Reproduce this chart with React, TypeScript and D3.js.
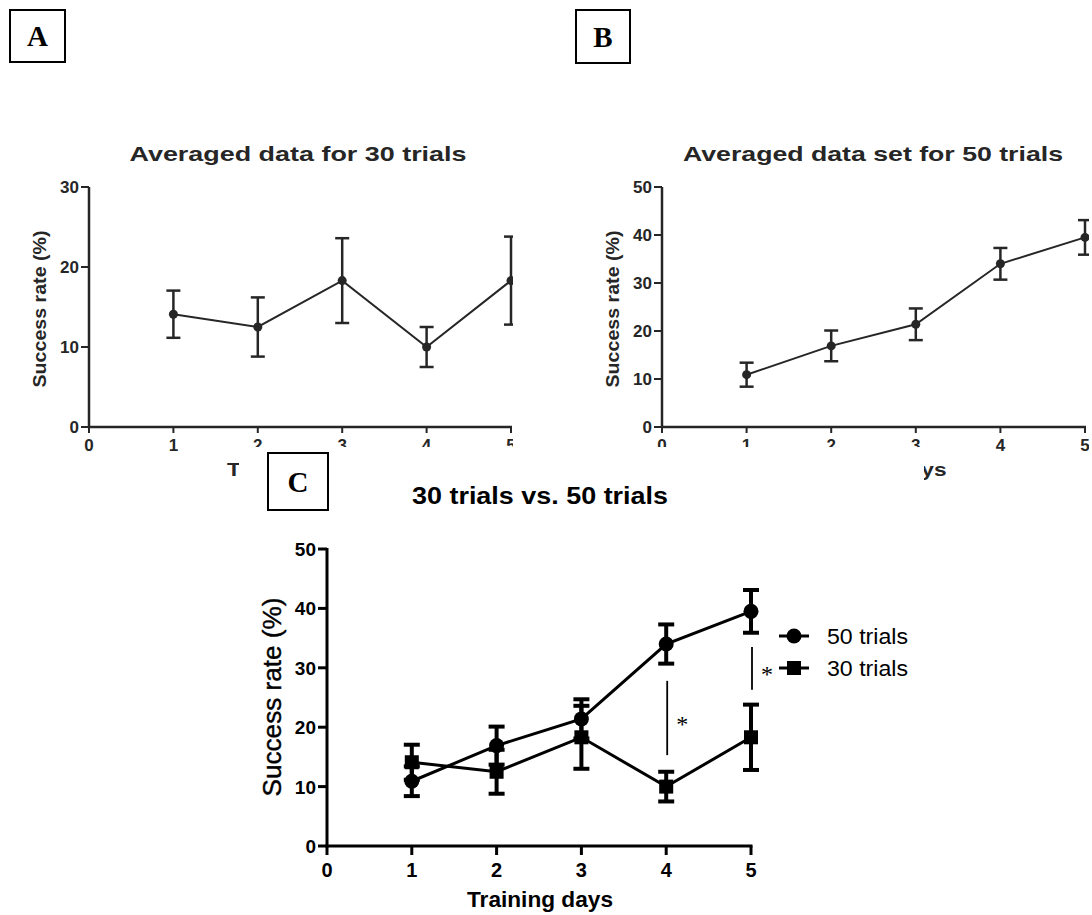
import React from 'react';
import * as d3 from 'd3';

const days = [1, 2, 3, 4, 5];
const xTicks = [0, 1, 2, 3, 4, 5];
const trials30Mean = [14.1, 12.5, 18.3, 10.0, 18.3];
const trials30Err = [2.95, 3.7, 5.3, 2.5, 5.5];
const trials50Mean = [10.9, 16.9, 21.4, 34.0, 39.5];
const trials50Err = [2.5, 3.2, 3.3, 3.3, 3.6];
const yTicks30 = [0, 10, 20, 30];
const yTicks50 = [0, 10, 20, 30, 40, 50];
const sigDays = [4, 5];
const sigFrom = [15.3, 26.3];
const sigTo = [27.8, 33.5];
const legendLabels = ['50 trials', '30 trials'];
const titleA = 'Averaged data for 30 trials';
const titleB = 'Averaged data set for 50 trials';
const titleC = '30 trials vs. 50 trials';
const xLabel = 'Training days';
const yLabel = 'Success rate (%)';

const SANS = '"Liberation Sans", Arial, sans-serif';
const SERIF = '"Liberation Serif", "DejaVu Serif", serif';

type SmallProps = {
  x0: number; x1: number; y0: number; y1: number;
  yMax: number; yTicks: number[];
  mean: number[]; err: number[];
  title: string; titleLen: number; titleX: number;
  yLabelX: number; clipId: string; clipX0: number; clipX1: number;
  labelClipX0: number; labelClipX1: number;
};

function SmallPanel(p: SmallProps) {
  const col = '#262626';
  const x = d3.scaleLinear().domain([0, 5]).range([p.x0, p.x1]);
  const y = d3.scaleLinear().domain([0, p.yMax]).range([p.y0, p.y1]);
  const line = d3.line<number>().x((_, i) => x(days[i])).y((d) => y(d));
  const cap = 7;
  return (
    <g>
      <defs>
        <clipPath id={p.clipId}>
          <rect x={p.clipX0} y={100} width={p.clipX1 - p.clipX0} height={400} />
        </clipPath>
        <clipPath id={p.clipId + 'L'}>
          <rect x={p.labelClipX0} y={450} width={p.labelClipX1 - p.labelClipX0} height={40} />
        </clipPath>
      </defs>
      <text x={p.titleX} y={161} textAnchor="middle" fontFamily={SANS} fontWeight="bold" fontSize={21}
        fill={col} textLength={p.titleLen} lengthAdjust="spacingAndGlyphs">{p.title}</text>
      <g clipPath={`url(#${p.clipId})`}>
        <line x1={x(0)} x2={x(0)} y1={y(p.yMax)} y2={y(0)} stroke={col} strokeWidth={2.5} />
        <line x1={x(0) - 1} x2={x(5) + 1} y1={y(0)} y2={y(0)} stroke={col} strokeWidth={2.5} />
        {p.yTicks.map((t) => (
          <g key={'yt' + t}>
            <line x1={x(0) - 8} x2={x(0)} y1={y(t)} y2={y(t)} stroke={col} strokeWidth={2} />
            <text x={x(0) - 10} y={y(t) + 6} textAnchor="end" fontFamily={SANS} fontWeight="bold"
              fontSize={17} fill={col}>{t}</text>
          </g>
        ))}
        {xTicks.map((t) => (
          <g key={'xt' + t}>
            <line x1={x(t)} x2={x(t)} y1={y(0)} y2={y(0) + 6} stroke={col} strokeWidth={2} />
            <text x={x(t)} y={y(0) + 24} textAnchor="middle" fontFamily={SANS} fontWeight="bold"
              fontSize={17} fill={col}>{t}</text>
          </g>
        ))}
        <path d={line(p.mean) || ''} fill="none" stroke={col} strokeWidth={2} />
        {p.mean.map((m, i) => {
          const cx = x(days[i]);
          const top = y(m + p.err[i]);
          const bot = y(m - p.err[i]);
          return (
            <g key={'e' + i}>
              <line x1={cx} x2={cx} y1={top} y2={bot} stroke={col} strokeWidth={2.5} />
              <line x1={cx - cap} x2={cx + cap} y1={top} y2={top} stroke={col} strokeWidth={2.5} />
              <line x1={cx - cap} x2={cx + cap} y1={bot} y2={bot} stroke={col} strokeWidth={2.5} />
              <circle cx={cx} cy={y(m)} r={4.5} fill={col} />
            </g>
          );
        })}
      </g>
      <text transform={`translate(${p.yLabelX},${(y(0) + y(p.yMax)) / 2 + 2}) rotate(-90)`} textAnchor="middle"
        fontFamily={SANS} fontWeight="bold" fontSize={19} fill={col} textLength={157}
        lengthAdjust="spacingAndGlyphs">{yLabel}</text>
      <g clipPath={`url(#${p.clipId}L)`}>
        <text x={(x(0) + x(5)) / 2} y={y(0) + 49} textAnchor="middle" fontFamily={SANS} fontWeight="bold"
          fontSize={19} fill={col} textLength={146} lengthAdjust="spacingAndGlyphs">{xLabel}</text>
      </g>
    </g>
  );
}

function LetterBox({ x, y, w, h, label }: { x: number; y: number; w: number; h: number; label: string }) {
  return (
    <g>
      <rect x={x} y={y} width={w} height={h} fill="white" stroke="black" strokeWidth={2} />
      <text x={x + w / 2} y={y + h / 2 + 10} textAnchor="middle" fontFamily={SERIF} fontWeight="bold"
        fontSize={29} fill="black">{label}</text>
    </g>
  );
}

function PanelC() {
  const x = d3.scaleLinear().domain([0, 5]).range([327, 751]);
  const y = d3.scaleLinear().domain([0, 50]).range([846, 549]);
  const line = d3.line<number>().x((_, i) => x(days[i])).y((d) => y(d));
  const cap = 8;
  const series = [
    { mean: trials50Mean, err: trials50Err, shape: 'circle' },
    { mean: trials30Mean, err: trials30Err, shape: 'square' },
  ];
  const marker = (shape: string, cx: number, cy: number, key: string) =>
    shape === 'circle' ? (
      <circle key={key} cx={cx} cy={cy} r={7.5} fill="black" />
    ) : (
      <rect key={key} x={cx - 7} y={cy - 7} width={14} height={14} fill="black" />
    );
  return (
    <g>
      <rect x={239} y={447} width={685} height={468} fill="white" />
      <text x={540} y={504} textAnchor="middle" fontFamily={SANS} fontWeight="bold" fontSize={24}
        fill="black" textLength={256} lengthAdjust="spacingAndGlyphs">{titleC}</text>
      <line x1={x(0)} x2={x(0)} y1={y(50) - 1} y2={y(0) + 1.5} stroke="black" strokeWidth={3} />
      <line x1={x(0) - 1.5} x2={x(5) + 1.5} y1={y(0)} y2={y(0)} stroke="black" strokeWidth={3} />
      {yTicks50.map((t) => (
        <g key={'cy' + t}>
          <line x1={x(0) - 9} x2={x(0)} y1={y(t)} y2={y(t)} stroke="black" strokeWidth={3} />
          <text x={x(0) - 11} y={y(t) + 7} textAnchor="end" fontFamily={SANS} fontWeight="bold"
            fontSize={19} fill="black">{t}</text>
        </g>
      ))}
      {xTicks.map((t) => (
        <g key={'cx' + t}>
          <line x1={x(t)} x2={x(t)} y1={y(0)} y2={y(0) + 9} stroke="black" strokeWidth={3} />
          <text x={x(t)} y={y(0) + 31} textAnchor="middle" fontFamily={SANS} fontWeight="bold"
            fontSize={20} fill="black">{t}</text>
        </g>
      ))}
      <text transform={`translate(281,${697}) rotate(-90)`} textAnchor="middle" fontFamily={SANS}
        fontSize={25} fill="black" stroke="black" strokeWidth={0.4} textLength={199}
        lengthAdjust="spacingAndGlyphs">{yLabel}</text>
      <text x={540} y={907} textAnchor="middle" fontFamily={SANS} fontWeight="bold" fontSize={22}
        fill="black" textLength={146} lengthAdjust="spacingAndGlyphs">{xLabel}</text>
      {series.map((s, si) => (
        <g key={'s' + si}>
          <path d={line(s.mean) || ''} fill="none" stroke="black" strokeWidth={3} />
          {s.mean.map((m, i) => {
            const cx = x(days[i]);
            const top = y(m + s.err[i]);
            const bot = y(m - s.err[i]);
            return (
              <g key={'ce' + i}>
                <line x1={cx} x2={cx} y1={top} y2={bot} stroke="black" strokeWidth={4} />
                <line x1={cx - cap} x2={cx + cap} y1={top} y2={top} stroke="black" strokeWidth={4} />
                <line x1={cx - cap} x2={cx + cap} y1={bot} y2={bot} stroke="black" strokeWidth={4} />
                {marker(s.shape, cx, y(m), 'm' + i)}
              </g>
            );
          })}
        </g>
      ))}
      {sigDays.map((d, i) => (
        <g key={'sig' + i}>
          <line x1={x(d) + 1} x2={x(d) + 1} y1={y(sigTo[i])} y2={y(sigFrom[i])} stroke="black" strokeWidth={1.8} />
          <text x={x(d) + 16} y={y((sigTo[i] + sigFrom[i]) / 2) + 14} textAnchor="middle" fontFamily={SERIF}
            fontSize={24} fill="black">*</text>
        </g>
      ))}
      {legendLabels.map((lab, i) => {
        const ly = 636 + i * 32;
        return (
          <g key={'lg' + i}>
            <line x1={779} x2={809} y1={ly} y2={ly} stroke="black" strokeWidth={3} />
            {marker(i === 0 ? 'circle' : 'square', 794, ly, 'lm' + i)}
            <text x={827} y={ly + 8} fontFamily={SANS} fontSize={22} fill="black"
              textLength={81} lengthAdjust="spacingAndGlyphs">{lab}</text>
          </g>
        );
      })}
    </g>
  );
}

export default function App() {
  return (
    <svg width={1092} height={915} viewBox="0 0 1092 915"
      style={{ position: 'absolute', left: 0, top: 0, background: 'white' }}>
      <rect x={0} y={0} width={1092} height={915} fill="white" />
      <LetterBox x={10} y={10} w={55} h={52} label="A" />
      <LetterBox x={576} y={10} w={54} h={53} label="B" />
      <SmallPanel x0={89} x1={511} y0={427} y1={187} yMax={30} yTicks={yTicks30}
        mean={trials30Mean} err={trials30Err} title={titleA} titleLen={337} titleX={298}
        yLabelX={46} clipId="clipA" clipX0={0} clipX1={513} labelClipX0={0} labelClipX1={239} />
      <SmallPanel x0={662} x1={1085} y0={427} y1={187} yMax={50} yTicks={yTicks50}
        mean={trials50Mean} err={trials50Err} title={titleB} titleLen={380} titleX={873}
        yLabelX={619} clipId="clipB" clipX0={540} clipX1={1089} labelClipX0={924} labelClipX1={1092} />
      <PanelC />
      <LetterBox x={268} y={453} w={60} h={57} label="C" />
    </svg>
  );
}
